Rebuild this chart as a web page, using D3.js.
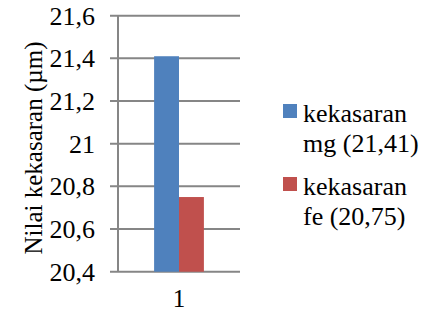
<!DOCTYPE html>
<html><head><meta charset="utf-8">
<script src="https://cdn.jsdelivr.net/npm/d3@7"></script>
<style>body{margin:0;background:#fff}svg{display:block}</style>
</head><body><svg id="c" width="426" height="313"></svg>
<script>
const categories = ["1"];
const seriesNames = ["kekasaran mg (21,41)", "kekasaran fe (20,75)"];
const legendLines = [["kekasaran", "mg (21,41)"], ["kekasaran", "fe (20,75)"]];
const seriesValues = [[21.41], [20.75]];
const yTicks = [20.4, 20.6, 20.8, 21, 21.2, 21.4, 21.6];
const colors = ["#4F81BD", "#C0504D"];

(function () {
const FONT = "'Liberation Serif', Tinos, 'Times New Roman', 'DejaVu Serif', serif";
const svg = d3.select("#c").attr("font-family", FONT).style("font-family", FONT);
const pL = 118, pR = 240, pT = 15.7, pB = 271.7;
const y = d3.scaleLinear().domain([20.4, 21.6]).range([pB, pT]);
const x = d3.scaleBand().domain(categories).range([pL, pR]);
const xs = d3.scaleBand().domain(d3.range(seriesNames.length)).range([0, x.bandwidth()]).paddingInner(0).paddingOuter(1.45);
const loc = d3.formatLocale({decimal: ",", thousands: ".", grouping: [3], currency: ["", ""]});
const fmt = loc.format("~g");

svg.append("g").selectAll("line").data(yTicks).join("line")
  .attr("x1", pL - 8).attr("x2", pR)
  .attr("y1", d => y(d)).attr("y2", d => y(d))
  .attr("stroke", "#868686").attr("stroke-width", 2);

categories.forEach((c, ci) => {
  seriesValues.forEach((vals, si) => {
    svg.append("rect")
      .attr("x", x(c) + xs(si)).attr("width", xs.bandwidth())
      .attr("y", y(vals[ci])).attr("height", y(20.4) - y(vals[ci]))
      .attr("fill", colors[si]);
  });
});

svg.append("line").attr("x1", pL).attr("x2", pL).attr("y1", pT).attr("y2", pB)
  .attr("stroke", "#868686").attr("stroke-width", 2);

svg.append("g").selectAll("text").data(yTicks).join("text")
  .attr("x", 95).attr("y", d => y(d)).attr("dy", "0.35em")
  .attr("text-anchor", "end").attr("font-size", 26).attr("fill", "#000").text(d => fmt(d));

svg.append("g").selectAll("text").data(categories).join("text")
  .attr("x", d => x(d) + x.bandwidth() / 2).attr("y", 307)
  .attr("text-anchor", "middle").attr("font-size", 25).attr("fill", "#000").text(d => d);

svg.append("text").attr("transform", "translate(42,148) rotate(-90)")
  .attr("text-anchor", "middle").attr("font-size", 25).attr("fill", "#000").text("Nilai kekasaran (µm)");

const lg = svg.append("g");
legendLines.forEach((lines, i) => {
  const b0 = 122 + i * 73;
  lg.append("rect").attr("x", 283).attr("y", b0 - 18).attr("width", 14).attr("height", 14).attr("fill", colors[i]);
  lines.forEach((t, j) => {
    lg.append("text").attr("x", 303).attr("y", b0 + j * 30)
      .attr("font-size", 26).attr("fill", "#000").text(t);
  });
});
})();
</script></body></html>
